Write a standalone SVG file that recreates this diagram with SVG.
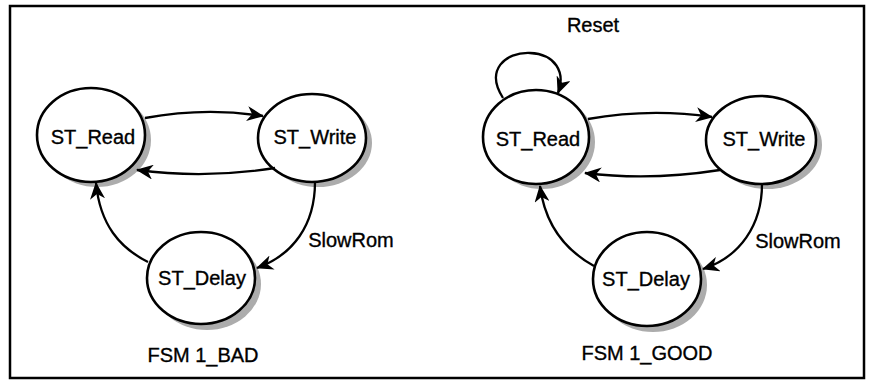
<svg xmlns="http://www.w3.org/2000/svg" width="872" height="385" viewBox="0 0 872 385">
<defs>
<marker id="ah" markerWidth="17" markerHeight="15" refX="16" refY="7.5" orient="auto" markerUnits="userSpaceOnUse">
<path d="M0,0 L17,7.5 L0,15 L5,7.5 z" fill="#000"/>
</marker>
<style>
.st{fill:#fff;stroke:#000;stroke-width:2.6}
.sh{fill:#acacac}
.lb{font-family:"Liberation Sans",Arial,sans-serif;font-size:20px;fill:#000;stroke:#000;stroke-width:0.35;text-anchor:middle}
.ed{fill:none;stroke:#000;stroke-width:2.3;marker-end:url(#ah)}
</style>
</defs>
<rect x="0" y="0" width="872" height="385" fill="#fff"/>
<rect x="10" y="6" width="854" height="372" fill="none" stroke="#000" stroke-width="2.5"/>

<g id="bad_read"><ellipse class="sh" cx="97" cy="140" rx="54" ry="47"/><ellipse class="st" cx="91" cy="135" rx="54" ry="47"/><text class="lb" x="93" y="144">ST_Read</text></g>
<g id="bad_write"><ellipse class="sh" cx="318" cy="143" rx="54" ry="44"/><ellipse class="st" cx="312" cy="138" rx="54" ry="44"/><text class="lb" x="315" y="144">ST_Write</text></g>
<g id="bad_delay"><ellipse class="sh" cx="207" cy="284" rx="54" ry="46"/><ellipse class="st" cx="201" cy="278" rx="54" ry="46"/><text class="lb" x="202" y="285">ST_Delay</text></g>

<g id="good_read"><ellipse class="sh" cx="542" cy="142" rx="53" ry="47"/><ellipse class="st" cx="536" cy="137" rx="53" ry="47"/><text class="lb" x="538" y="146">ST_Read</text></g>
<g id="good_write"><ellipse class="sh" cx="767" cy="145" rx="55" ry="44"/><ellipse class="st" cx="761" cy="140" rx="55" ry="44"/><text class="lb" x="764" y="146">ST_Write</text></g>
<g id="good_delay"><ellipse class="sh" cx="653" cy="285" rx="54" ry="47"/><ellipse class="st" cx="647" cy="279" rx="54" ry="47"/><text class="lb" x="646" y="286">ST_Delay</text></g>

<g id="connectors">
<path class="ed" d="M145,118 Q205,107 263,116"/>
<path class="ed" d="M275,168 Q205,179 137,170"/>
<path class="ed" d="M315,182 C315,225 293,255 257,268"/>
<path class="ed" d="M148,262 C120,248 100,225 96,183"/>

<path class="ed" d="M503,98 C485,70 505,52 530,53 C555,54 566,72 558,93"/>
<path class="ed" d="M588,119 Q650,108 712,117"/>
<path class="ed" d="M720,170 Q650,181 585,173"/>
<path class="ed" d="M762,184 C762,225 740,257 703,269"/>
<path class="ed" d="M594,266 C565,250 545,225 540,186"/>
</g>

<g id="labels">
<text class="lb" x="351" y="247">SlowRom</text>
<text class="lb" x="798" y="248">SlowRom</text>
<text class="lb" x="593" y="32">Reset</text>
<text class="lb" x="203" y="362">FSM 1_BAD</text>
<text class="lb" x="647" y="360">FSM 1_GOOD</text>
</g>
</svg>
